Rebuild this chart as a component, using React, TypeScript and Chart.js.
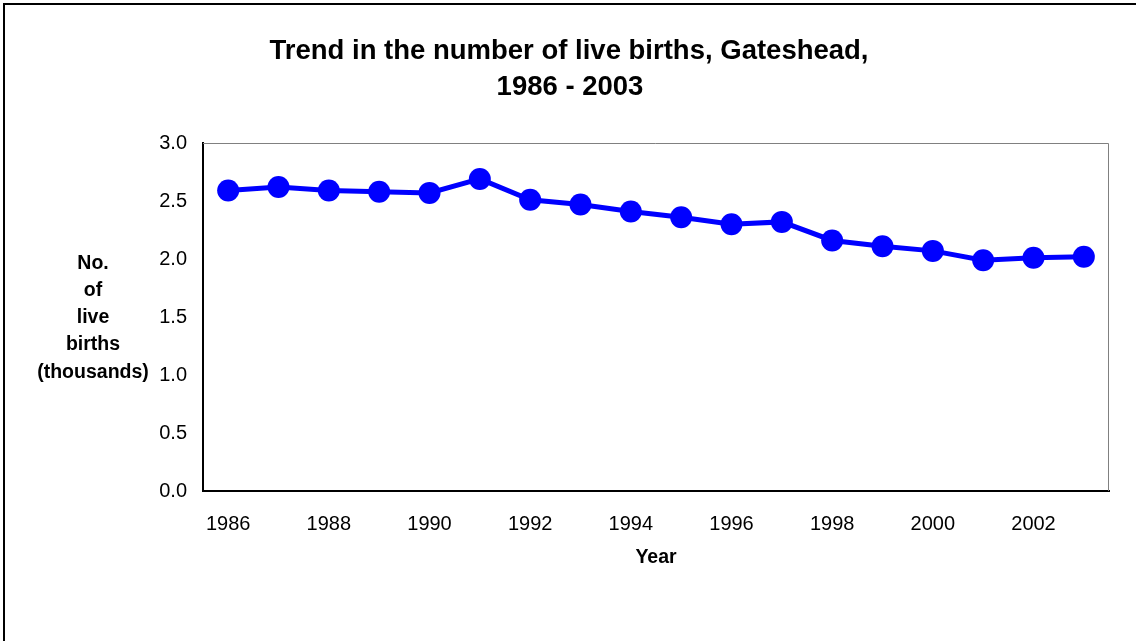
import React, { useEffect, useRef } from "react";
import { Chart, registerables } from "chart.js";

Chart.register(...registerables);

const years = [
  "1986", "1987", "1988", "1989", "1990", "1991", "1992", "1993", "1994",
  "1995", "1996", "1997", "1998", "1999", "2000", "2001", "2002", "2003",
];
const births = [
  2.59, 2.62, 2.59, 2.58, 2.57, 2.69, 2.51, 2.47, 2.41,
  2.36, 2.30, 2.32, 2.16, 2.11, 2.07, 1.99, 2.01, 2.02,
];
const titleLines = ["Trend in the number of live births, Gateshead,", "1986 - 2003"];
const yTitleLines = ["No.", "of", "live", "births", "(thousands)"];
const xTitle = "Year";

const FONT = "'Liberation Sans', Arial, sans-serif";

const decorPlugin = {
  id: "decor",
  beforeDraw(chart: any) {
    const ctx = chart.ctx;
    ctx.save();
    ctx.fillStyle = "#ffffff";
    ctx.fillRect(0, 0, chart.width, chart.height);
    ctx.strokeStyle = "#000000";
    ctx.lineWidth = 2;
    ctx.beginPath();
    ctx.moveTo(4, chart.height + 5);
    ctx.lineTo(4, 4);
    ctx.lineTo(chart.width + 5, 4);
    ctx.stroke();
    ctx.restore();
  },
  afterDraw(chart: any) {
    const ctx = chart.ctx;
    const a = chart.chartArea;
    ctx.save();
    // top & right plot border
    ctx.strokeStyle = "#808080";
    ctx.lineWidth = 1;
    ctx.beginPath();
    ctx.moveTo(a.left, a.top + 0.5);
    ctx.lineTo(a.right - 0.5, a.top + 0.5);
    ctx.lineTo(a.right - 0.5, a.bottom);
    ctx.stroke();
    // title
    ctx.fillStyle = "#000000";
    ctx.textAlign = "center";
    ctx.textBaseline = "middle";
    ctx.font = `bold 27.5px ${FONT}`;
    ctx.fillText(titleLines[0], 569, 51);
    ctx.fillText(titleLines[1], 570, 87);
    // y title
    ctx.font = `bold 19.5px ${FONT}`;
    const ys = [264, 291, 318, 345, 373];
    yTitleLines.forEach((t, i) => ctx.fillText(t, 93, ys[i]));
    // x title
    ctx.fillText(xTitle, (a.left + a.right) / 2, 558);
    ctx.restore();
  },
};

export default function App() {
  const ref = useRef<HTMLCanvasElement>(null);
  useEffect(() => {
    if (!ref.current) return;
    const chart = new Chart(ref.current, {
      type: "line",
      data: {
        labels: years,
        datasets: [
          {
            data: births,
            borderColor: "#0000ff",
            backgroundColor: "#0000ff",
            borderWidth: 5,
            pointRadius: 11,
            pointHoverRadius: 11,
            pointBackgroundColor: "#0000ff",
            pointBorderWidth: 0,
            tension: 0,
          },
        ],
      },
      options: {
        responsive: false,
        animation: false,
        layout: { padding: { top: 143, right: 27, left: 0, bottom: 0 } },
        plugins: {
          legend: { display: false },
          title: { display: false },
          tooltip: { enabled: false },
        },
        scales: {
          x: {
            offset: true,
            grid: { display: false, drawTicks: false },
            border: { display: true, color: "#000000", width: 2 },
            ticks: {
              autoSkip: false,
              maxRotation: 0,
              padding: 21,
              color: "#000000",
              font: { family: FONT, size: 20 },
              callback: (_v: any, i: number) => (i % 2 === 0 ? years[i] : ""),
            },
            afterFit: (s: any) => {
              s.height = 150;
            },
          },
          y: {
            min: 0,
            max: 3,
            grid: { display: false, drawTicks: false },
            border: { display: true, color: "#000000", width: 2 },
            ticks: {
              stepSize: 0.5,
              padding: 16,
              color: "#000000",
              font: { family: FONT, size: 20 },
              callback: (v: any) => Number(v).toFixed(1),
            },
            afterFit: (s: any) => {
              s.width = 203;
            },
          },
        },
      },
      plugins: [decorPlugin],
    });
    return () => chart.destroy();
  }, []);
  return (
    <div style={{ position: "fixed", left: 0, top: 0, width: 1136, height: 641, background: "#fff" }}>
      <canvas ref={ref} width={1136} height={641} style={{ display: "block" }} />
    </div>
  );
}
